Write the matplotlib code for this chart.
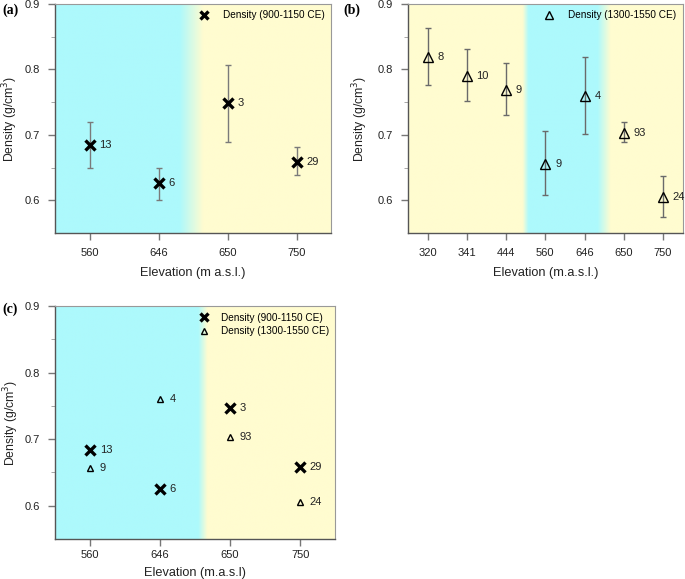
import numpy as np
import matplotlib
matplotlib.use("Agg")
import matplotlib.pyplot as plt
from matplotlib.colors import to_rgb

plt.rcParams['font.family'] = ['Liberation Sans', 'DejaVu Sans']

# panel (a): 900-1150 CE
elev_a = ["560", "646", "650", "750"]
dens_a = [0.684, 0.626, 0.748, 0.659]
low_a = [0.650, 0.600, 0.689, 0.638]
high_a = [0.719, 0.650, 0.807, 0.681]
n_a = ["13", "6", "3", "29"]

# panel (b): 1300-1550 CE
elev_b = ["320", "341", "444", "560", "646", "650", "750"]
dens_b = [0.819, 0.790, 0.769, 0.656, 0.759, 0.703, 0.605]
low_b = [0.776, 0.751, 0.730, 0.608, 0.701, 0.689, 0.575]
high_b = [0.864, 0.831, 0.810, 0.706, 0.819, 0.719, 0.637]
n_b = ["8", "10", "9", "9", "4", "93", "24"]

# panel (c): both periods
elev_c = ["560", "646", "650", "750"]
dens_c1 = [0.684, 0.625, 0.747, 0.658]
n_c1 = ["13", "6", "3", "29"]
dens_c2 = [0.656, 0.760, 0.704, 0.606]
n_c2 = ["9", "4", "93", "24"]

CYAN = to_rgb("#adf9fc")
YELLOW = to_rgb("#fffcd0")


def background(ax, n, segments):
    # segments: list of (x0, x1, color0, color1) in category units
    xs = np.linspace(-0.5, n - 0.5, 800)
    img = np.zeros((1, len(xs), 3))
    for x0, x1, c0, c1 in segments:
        for i, x in enumerate(xs):
            if x0 <= x <= x1:
                t = 0 if x1 == x0 else (x - x0) / (x1 - x0)
                img[0, i] = np.array(c0) * (1 - t) + np.array(c1) * t
    ax.imshow(img, extent=[-0.5, n - 0.5, 0.55, 0.9], aspect='auto',
              interpolation='bilinear', zorder=0)


def style(ax, labels, xlabel, ylab_x, xpad=6, xlabpad=6):
    n = len(labels)
    ax.set_xlim(-0.5, n - 0.5)
    ax.set_ylim(0.55, 0.9)
    ax.set_xticks(range(n))
    ax.set_xticklabels(labels)
    ax.set_yticks([0.6, 0.7, 0.8, 0.9])
    ax.set_yticks([0.65, 0.75, 0.85], minor=True)
    ax.tick_params(axis='both', labelsize=8, color='#777777', length=5,
                   width=1, pad=6, labelcolor='#222222')
    ax.tick_params(axis='x', pad=xpad)
    ax.tick_params(axis='y', which='minor', length=3, color='#999999')
    for s in ['left', 'bottom']:
        ax.spines[s].set_color('#555555')
        ax.spines[s].set_linewidth(1.0)
    for s in ['top', 'right']:
        ax.spines[s].set_color('#999999')
        ax.spines[s].set_linewidth(0.8)
    ax.set_xlabel(xlabel, fontsize=9.2, labelpad=xlabpad, color='#222222')
    ax.set_ylabel("Density (g/cm$^3$)", fontsize=8.8, color='#222222')
    ax.yaxis.set_label_coords(ylab_x, 0.5)


def annotate(ax, xs, ys, labels):
    for x, y, t in zip(xs, ys, labels):
        ax.annotate(t, (x, y), xytext=(7, 0), textcoords='offset points',
                    fontsize=8, va='center', ha='left', color='#222222', zorder=5)


fig = plt.figure(figsize=(6.85, 5.79), dpi=100)
ax_a = fig.add_axes([0.0803, 0.5976, 0.403, 0.3955])
ax_b = fig.add_axes([0.5956, 0.5976, 0.401, 0.3955])
ax_c = fig.add_axes([0.0803, 0.0691, 0.409, 0.402])

leg_kw = dict(loc='upper right', frameon=False, fontsize=7.2, handlelength=1.2,
              handletextpad=1.3, borderaxespad=0.25)

# (a)
background(ax_a, len(elev_a), [(-0.5, 1.30, CYAN, CYAN), (1.30, 1.64, CYAN, YELLOW),
                               (1.64, 3.5, YELLOW, YELLOW)])
xa = np.arange(len(elev_a))
ax_a.errorbar(xa, dens_a,
              yerr=[np.array(dens_a) - np.array(low_a), np.array(high_a) - np.array(dens_a)],
              fmt='none', ecolor='#7a7a7a', elinewidth=1.0, capsize=2.5, capthick=1.0, zorder=2)
ax_a.plot(xa, dens_a, 'x', color='black', ms=7, mew=2.4, zorder=3,
          label="Density (900-1150 CE)")
annotate(ax_a, xa, dens_a, n_a)
style(ax_a, elev_a, "Elevation (m a.s.l.)", -0.125)
ax_a.legend(markerscale=0.8, **leg_kw)

# (b)
background(ax_b, len(elev_b), [(-0.5, 2.42, YELLOW, YELLOW), (2.42, 2.57, YELLOW, CYAN),
                               (2.57, 4.33, CYAN, CYAN), (4.33, 4.66, CYAN, YELLOW),
                               (4.66, 6.5, YELLOW, YELLOW)])
xb = np.arange(len(elev_b))
ax_b.errorbar(xb, dens_b,
              yerr=[np.array(dens_b) - np.array(low_b), np.array(high_b) - np.array(dens_b)],
              fmt='none', ecolor='#6a6a6a', elinewidth=1.0, capsize=2.5, capthick=1.0, zorder=2)
ax_b.plot(xb, dens_b, '^', mfc='none', mec='black', ms=7, mew=1.0, zorder=3,
          label="Density (1300-1550 CE)")
annotate(ax_b, xb, dens_b, n_b)
style(ax_b, elev_b, "Elevation (m.a.s.l.)", -0.14)
ax_b.legend(markerscale=0.75, **leg_kw)

# (c)
background(ax_c, len(elev_c), [(-0.5, 1.54, CYAN, CYAN), (1.54, 1.67, CYAN, YELLOW),
                               (1.67, 3.5, YELLOW, YELLOW)])
xc = np.arange(len(elev_c))
ax_c.plot(xc, dens_c1, 'x', color='black', ms=7, mew=2.4, zorder=3,
          label="Density (900-1150 CE)")
ax_c.plot(xc, dens_c2, '^', mfc='none', mec='black', ms=5, mew=1.0, zorder=3,
          label="Density (1300-1550 CE)")
annotate(ax_c, xc, dens_c1, n_c1)
annotate(ax_c, xc, dens_c2, n_c2)
style(ax_c, elev_c, "Elevation (m.a.s.l)", -0.123, xpad=3, xlabpad=5)
leg_c = dict(leg_kw, handletextpad=1.1, labelspacing=0.35)
ax_c.legend(markerscale=0.8, **leg_c)

for x, y, t in [(0.003, 0.994, "(a)"), (0.502, 0.994, "(b)"), (0.003, 0.477, "(c)")]:
    fig.text(x, y, t, fontsize=10, fontweight='bold', family='Liberation Serif',
             va='top', ha='left')

fig.savefig("out.png", dpi=100)
